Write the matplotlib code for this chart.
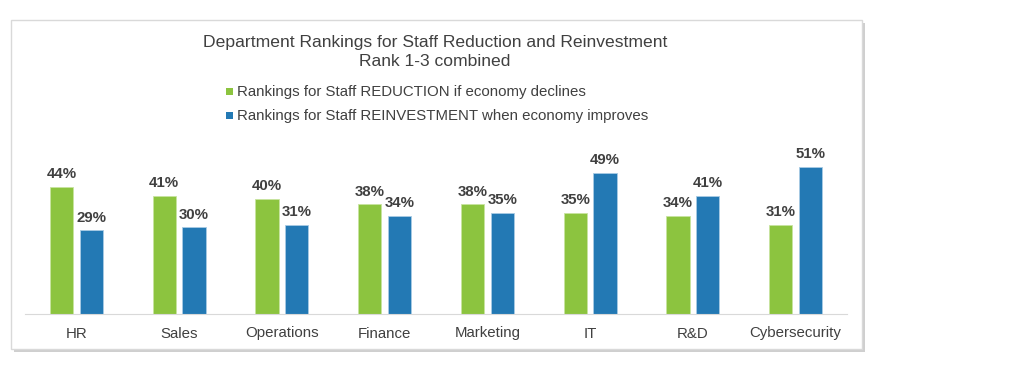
import matplotlib.pyplot as plt
from matplotlib.patches import Rectangle
import numpy as np

plt.rcParams['font.family'] = ['Liberation Sans', 'DejaVu Sans']

departments = ['HR', 'Sales', 'Operations', 'Finance', 'Marketing', 'IT', 'R&D', 'Cybersecurity']
reduction = [44, 41, 40, 38, 38, 35, 34, 31]
reinvest = [29, 30, 31, 34, 35, 49, 41, 51]

green = '#8cc43f'
blue = '#2379b4'
text_col = '#404040'
W, H = 1024, 384

fig = plt.figure(figsize=(W / 100, H / 100), dpi=100)

# frame with a soft shadow
fig.patches.append(Rectangle((14 / W, 1 - 352 / H), 851 / W, 329 / H, transform=fig.transFigure,
                             facecolor='#b0b0b0', edgecolor='none', zorder=0, alpha=0.6))
fig.patches.append(Rectangle((11 / W, 1 - 349 / H), 851 / W, 329 / H, transform=fig.transFigure,
                             facecolor='white', edgecolor='#d9d9d9', linewidth=1, zorder=1))

ax = fig.add_axes([25 / W, (H - 314) / H, 822 / W, 164 / H])
ax.set_zorder(2)
ax.patch.set_visible(False)

x = np.arange(len(departments))
w = 0.225
off = 0.145
b1 = ax.bar(x - off, reduction, w, color=green, edgecolor='#c8e4a0', linewidth=0.6)
b2 = ax.bar(x + off, reinvest, w, color=blue, edgecolor='#a8cbe4', linewidth=0.6)

for bars, vals in ((b1, reduction), (b2, reinvest)):
    for b, v in zip(bars, vals):
        ax.annotate(f'{v}%', (b.get_x() + b.get_width() / 2, v), xytext=(0, 4),
                    textcoords='offset points', ha='center', va='bottom',
                    fontsize=10.8, fontweight='bold', color=text_col)

ax.set_xlim(-0.5, len(departments) - 0.5)
ax.set_ylim(0, 164 / 2.886)
ax.set_xticks(x)
ax.set_xticklabels(departments, fontsize=10.8, color=text_col)
ax.tick_params(axis='x', length=0, pad=9)
ax.set_yticks([])
for s in ['top', 'right', 'left']:
    ax.spines[s].set_visible(False)
ax.spines['bottom'].set_color('#d9d9d9')

fig.text(435 / W, 1 - 42 / H, 'Department Rankings for Staff Reduction and Reinvestment',
         ha='center', va='center', fontsize=12.6, color=text_col, zorder=3)
fig.text(435 / W, 1 - 61 / H, 'Rank 1-3 combined',
         ha='center', va='center', fontsize=12.6, color=text_col, zorder=3)

legend_items = [('Rankings for Staff REDUCTION if economy declines', green, 92),
                ('Rankings for Staff REINVESTMENT when economy improves', blue, 116)]
for label, col, yy in legend_items:
    fig.patches.append(Rectangle((226 / W, 1 - (yy + 3) / H), 7 / W, 7 / H, transform=fig.transFigure,
                                 facecolor=col, edgecolor='none', zorder=3))
    fig.text(237 / W, 1 - yy / H, label, ha='left', va='center', fontsize=10.8,
             color=text_col, zorder=3)

fig.savefig('out.png', dpi=100)
